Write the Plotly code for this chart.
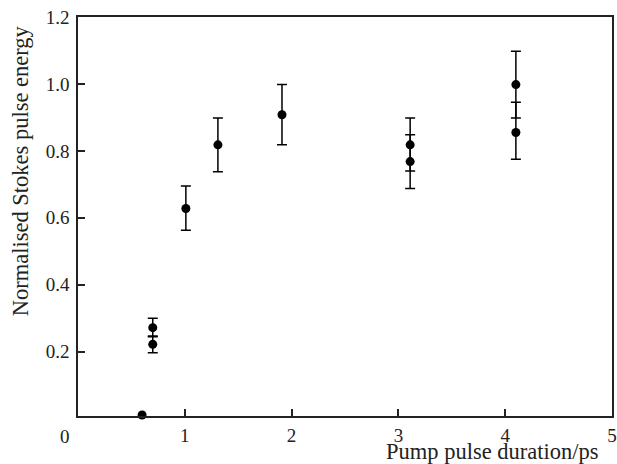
import plotly.graph_objects as go

# Data
x_err = [0.70, 0.70, 1.01, 1.31, 1.91, 3.11, 3.11, 4.10, 4.10]
y_err = [0.272, 0.222, 0.628, 0.818, 0.908, 0.818, 0.768, 0.998, 0.855]
err_plus = [0.028, 0.025, 0.067, 0.080, 0.090, 0.080, 0.080, 0.100, 0.090]
err_minus = [0.027, 0.025, 0.065, 0.080, 0.090, 0.078, 0.080, 0.100, 0.080]

x_single = [0.60]
y_single = [0.011]

x_ticks = [0, 1, 2, 3, 4, 5]
x_tick_text = ["", "1", "2", "3", "4", "5"]
y_ticks = [0.2, 0.4, 0.6, 0.8, 1.0, 1.2]
y_tick_text = ["0.2", "0.4", "0.6", "0.8", "1.0", "1.2"]

FONT = "Liberation Serif"
AX = "#222222"
TICK_SIZE = 19
TITLE_SIZE = 22.5

fig = go.Figure()
fig.add_trace(go.Scatter(
    x=x_err, y=y_err, mode="markers",
    marker=dict(color="black", size=9),
    error_y=dict(type="data", symmetric=False, array=err_plus, arrayminus=err_minus,
                 color="black", thickness=1.5, width=5),
    cliponaxis=False, showlegend=False,
))
fig.add_trace(go.Scatter(
    x=x_single, y=y_single, mode="markers",
    marker=dict(color="black", size=9),
    cliponaxis=False, showlegend=False,
))

fig.update_layout(
    width=617, height=464,
    margin=dict(l=77.5, r=5, t=17, b=48, autoexpand=False),
    plot_bgcolor="white", paper_bgcolor="white",
    font=dict(family=FONT, size=TICK_SIZE, color="#222222"),
    xaxis=dict(range=[0, 5], tickvals=x_ticks, ticktext=x_tick_text,
               ticks="inside", ticklen=7, tickwidth=1.5, tickcolor=AX,
               showline=True, linecolor=AX, linewidth=1.5, mirror=True,
               showgrid=False, zeroline=False, ticklabelstandoff=1,
               automargin=False, ticklabeloverflow="allow",
               tickfont=dict(family=FONT, size=TICK_SIZE)),
    yaxis=dict(range=[0.008, 1.2], tickvals=y_ticks, ticktext=y_tick_text,
               ticks="inside", ticklen=7, tickwidth=1.5, tickcolor=AX,
               showline=True, linecolor=AX, linewidth=1.5, mirror=True,
               showgrid=False, zeroline=False, ticklabelstandoff=3,
               automargin=False, ticklabeloverflow="allow",
               tickfont=dict(family=FONT, size=TICK_SIZE)),
)

fig.add_annotation(text="0", x=0, y=0, xref="x", yref="paper",
                   xanchor="center", yanchor="top", xshift=-13, yshift=-8,
                   showarrow=False, font=dict(family=FONT, size=TICK_SIZE))
fig.add_annotation(text="Pump pulse duration/ps", x=0.979, y=-0.09,
                   xref="paper", yref="paper", xanchor="right", yanchor="middle",
                   showarrow=False, font=dict(family=FONT, size=TITLE_SIZE))
fig.add_annotation(text="Normalised Stokes pulse energy", x=-0.108, y=0.614,
                   xref="paper", yref="paper", xanchor="center", yanchor="middle",
                   textangle=-90, showarrow=False, font=dict(family=FONT, size=TITLE_SIZE))

fig.write_html(
    "out.html",
    config={"displayModeBar": False},
    post_script="document.body.style.margin='0';document.body.style.overflow='hidden';",
)
